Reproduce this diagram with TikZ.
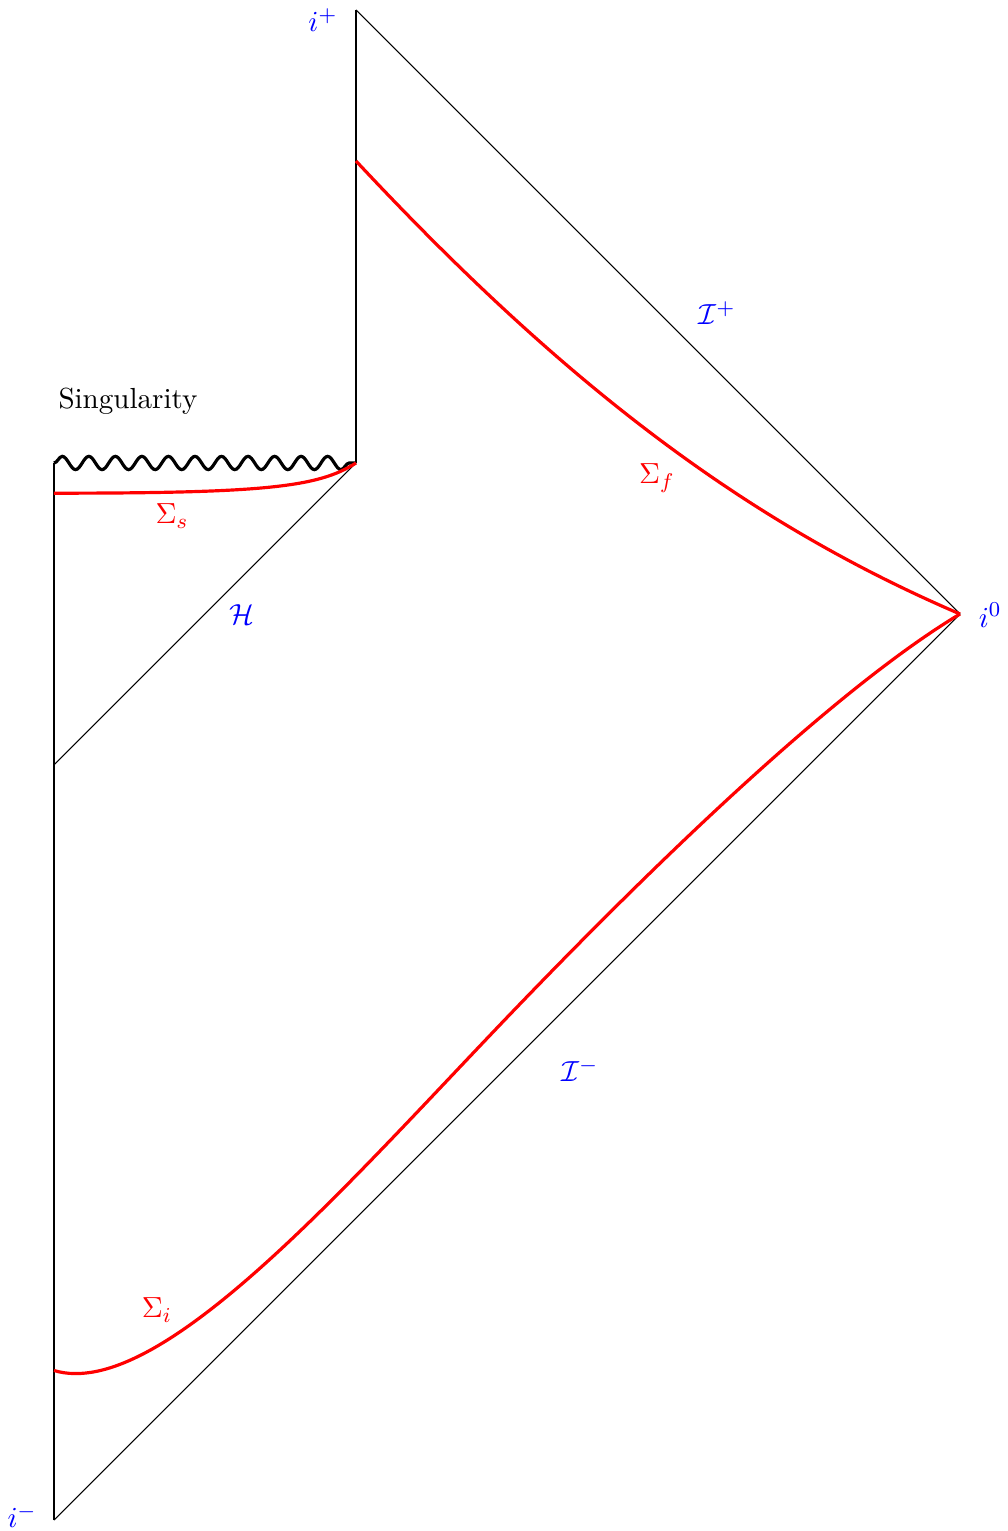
\documentclass[tikz,border=0pt]{standalone}
\usetikzlibrary{decorations.pathmorphing}
\begin{document}
\begin{tikzpicture}[x=2cm,y=2cm,
  every node/.style={font=\fontsize{10.95}{13.6}\selectfont},
  bd/.style={black,line width=0.4pt},
  surf/.style={red,very thick},
  lab/.style={blue},
  slab/.style={red},
  sing/.style={black,very thick,decorate,decoration={snake,segment length=10pt,amplitude=2.5pt}}]
\useasboundingbox (-0.3576,-0.0728) rectangle (6.3113,10.0662);
% points
\coordinate (im) at (0,0);
\coordinate (i0) at (6,6);
\coordinate (ip) at (2,10);
\coordinate (hl) at (0,5);
\coordinate (sl) at (0,7);
\coordinate (sr) at (2,7);
\coordinate (fs) at (2,9.0);
\coordinate (ss) at (0,6.8);
\coordinate (is) at (0,0.99);
\coordinate (im1) at (3.05,3.38);
% boundaries
\draw[bd] (im) -- (sl);
\draw[bd] (hl) -- (sr);
\draw[bd] (sr) -- (ip);
\draw[bd] (ip) -- (i0);
\draw[bd] (im) -- (i0);
\draw[sing] (sl) -- (sr);
% surfaces
\draw[surf] (ss) .. controls (1.4,6.8) and (1.75,6.84) .. (sr);
\draw[surf] (fs) .. controls (3.4,7.5) and (4.6,6.6) .. (i0);
\draw[surf] (is) .. controls (0.7,0.78) and (1.95,2.236) .. (im1)
  .. controls (4.05,4.42) and (5.2,5.52) .. (i0);
% labels
\node[lab] (lip) at (1.781,9.934) {$i^+$};
\node[lab] (lim) at (-0.212,0.026) {$i^-$};
\node[lab] (li0) at (6.199,5.993) {$i^0$};
\node[lab] (lscrp) at (4.391,7.993) {$\mathcal{I}^+$};
\node[lab] (lscrm) at (3.483,2.980) {$\mathcal{I}^-$};
\node[lab] (lh) at (1.245,5.993) {$\mathcal{H}$};
\node[slab] (lss) at (0.781,6.649) {$\Sigma_s$};
\node[slab] (lsf) at (3.993,6.901) {$\Sigma_f$};
\node[slab] (lsi) at (0.682,1.391) {$\Sigma_i$};
\node (lsing) at (0.490,7.411) {Singularity};
\end{tikzpicture}
\end{document}
